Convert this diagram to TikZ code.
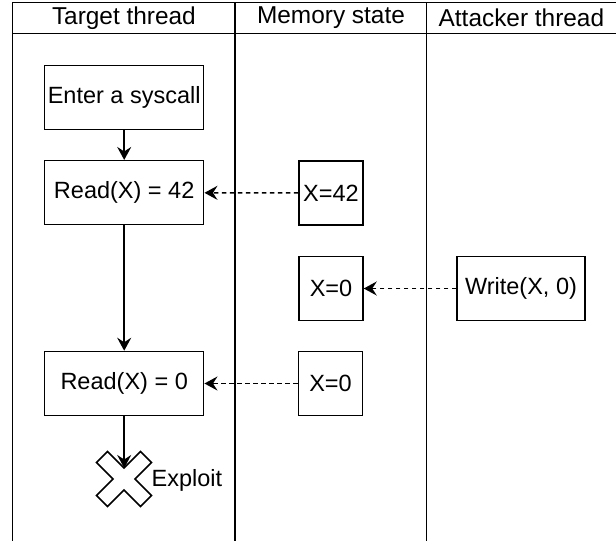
\documentclass[tikz,border=0pt]{standalone}
\usepackage{fontspec}
\setmainfont{Liberation Sans}
\usetikzlibrary{arrows.meta}
\begin{document}
\begin{tikzpicture}[x=1pt,y=-1pt,
  txt/.style={inner sep=0pt, font=\fontsize{23.5}{28}\selectfont},
  hdr/.style={inner sep=0pt, font=\fontsize{24.4}{28}\selectfont},
  box/.style={txt, draw, line width=1.5pt},
  lane/.style={line width=1.5pt},
  flow/.style={line width=1.5pt, -{Stealth[length=13pt,width=14pt,inset=4.5pt]}},
  dflow/.style={flow, dash pattern=on 4.5pt off 3.5pt}]
\useasboundingbox (0,0) rectangle (616,541);
% swimlanes
\draw[lane] (12.7,541) -- (12.7,2.3) -- (616.3,2.3);
\draw[lane] (616.3,2.3) -- (616.3,541);
\draw[lane] (12.7,33.3) -- (616.3,33.3);
\draw[lane] (235,2.3) -- (235,541);
\draw[lane] (426.7,2.3) -- (426.7,541);
\node[hdr] (h1) at (123.9,18) {Target thread};
\node[hdr] (h2) at (331,18) {Memory state};
\node[hdr] (h3) at (521.4,18) {Attacker thread};
% boxes
\node[box, minimum width=159pt, minimum height=64pt] (enter) at (124.2,97.5) {Enter a syscall};
\node[box, minimum width=159pt, minimum height=64pt] (read42) at (124.2,192.7) {Read(X) = 42};
\node[box, minimum width=159pt, minimum height=64pt] (read0) at (124.2,383.5) {Read(X) = 0};
\node[box, minimum width=64pt, minimum height=64pt] (x42) at (331,193) {X=42};
\node[box, minimum width=64pt, minimum height=64pt] (x0a) at (331,288.5) {X=0};
\node[box, minimum width=64pt, minimum height=64pt] (x0b) at (330.5,383.5) {X=0};
\node[box, minimum width=128pt, minimum height=64pt] (write) at (521,288.5) {Write(X, 0)};
% cross
\draw[line width=1.5pt, fill=white, line join=miter]
  (96.5,462.5) -- (107.5,451.5) -- (124,468) -- (140.5,451.5) -- (151.5,462.5) -- (135,479)
  -- (151.5,495.5) -- (140.5,506.5) -- (124,490) -- (107.5,506.5) -- (96.5,495.5) -- (113,479) -- cycle;
\coordinate (notch) at (124.2,468);
\node[txt, anchor=west] (exploit) at (151.5,480) {Exploit};
% connectors
\draw[flow] (enter) -- (read42);
\draw[flow] (read42) -- (read0);
\draw[flow] (read0) -- (notch);
\draw[dflow] (x42) -- (read42);
\draw[dflow] (write) -- (x0a);
\draw[dflow] (x0b) -- (read0);
\end{tikzpicture}
\end{document}
